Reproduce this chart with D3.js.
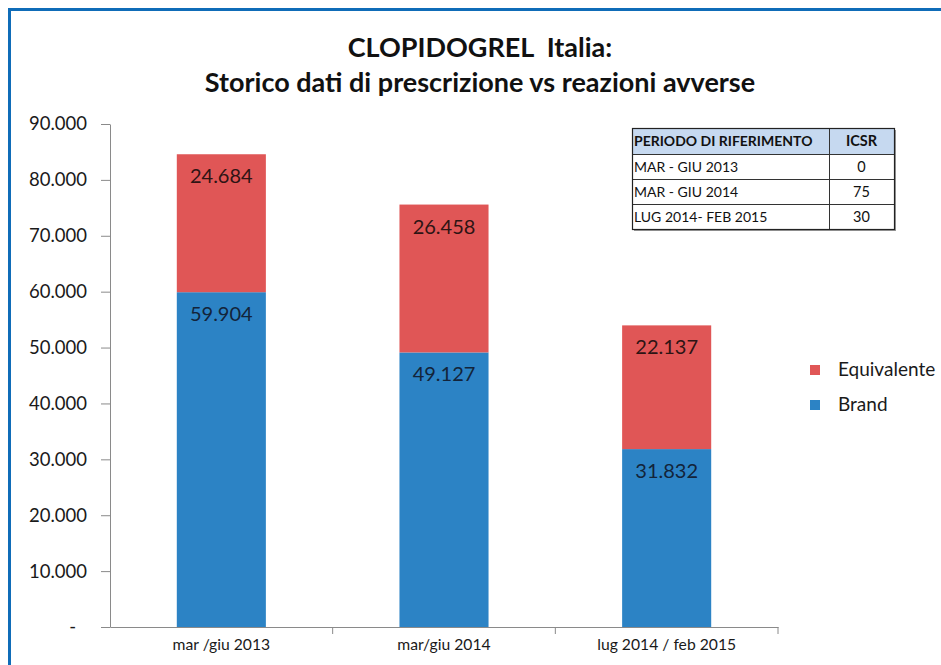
<!DOCTYPE html>
<html>
<head>
<meta charset="utf-8">
<script src="https://cdn.jsdelivr.net/npm/d3@7"></script>
<style>
  body { margin: 0; background: #fff; }
  svg { display: block; font-family: Lato, "Open Sans", sans-serif; }
</style>
</head>
<body>
<svg id="chart" width="941" height="665"></svg>
<script>
// data
const categories = ["mar /giu 2013", "mar/giu 2014", "lug 2014 / feb 2015"];
const brand = [59904, 49127, 31832];
const equivalente = [24684, 26458, 22137];
const yTicks = [0, 10000, 20000, 30000, 40000, 50000, 60000, 70000, 80000, 90000];
const tableHeader = ["PERIODO DI RIFERIMENTO", "ICSR"];
const periodi = ["MAR - GIU 2013", "MAR - GIU 2014", "LUG 2014- FEB 2015"];
const icsr = [0, 75, 30];

const blue = "#2c83c5";
const red = "#e05656";

const it = d3.formatLocale({decimal: ",", thousands: ".", grouping: [3], currency: ["€", ""]});
const fmt = it.format(",d");

let svg = d3.select("#chart");

// blue frame
svg.append("rect")
    .attr("x", 9.5).attr("y", 9.5)
    .attr("width", 1000).attr("height", 1000)
    .attr("fill", "none")
    .attr("stroke", "#0f6cb8")
    .attr("stroke-width", 3);

// title
let title = svg.append("text")
    .attr("text-anchor", "middle")
    .style("font-weight", "bold")
    .style("font-size", "27px")
    .style("white-space", "pre")
    .attr("fill", "#111");
title.append("tspan").attr("x", 480).attr("y", 57).text("CLOPIDOGREL  Italia:");
title.append("tspan").attr("x", 480).attr("y", 92).text("Storico dati di prescrizione vs reazioni avverse");

let x = d3.scaleBand()
    .domain(categories)
    .range([110, 778])
    .paddingInner(0.6)
    .paddingOuter(0.3);

let y = d3.scaleLinear()
    .domain([0, 90000])
    .range([627, 124]);

let stacked = categories.map((c, i) => ({cat: c, brand: brand[i], eq: equivalente[i]}));

// bars
let g = svg.append("g");
g.selectAll("rect.brand")
    .data(stacked).enter().append("rect")
    .attr("class", "brand")
    .attr("x", d => x(d.cat))
    .attr("width", x.bandwidth())
    .attr("y", d => y(d.brand))
    .attr("height", d => y(0) - y(d.brand))
    .attr("fill", blue);
g.selectAll("rect.eq")
    .data(stacked).enter().append("rect")
    .attr("class", "eq")
    .attr("x", d => x(d.cat))
    .attr("width", x.bandwidth())
    .attr("y", d => y(d.brand + d.eq))
    .attr("height", d => y(d.brand) - y(d.brand + d.eq))
    .attr("fill", red);

// value labels, inside end
g.selectAll("text.lb")
    .data(stacked).enter().append("text")
    .attr("x", d => x(d.cat) + x.bandwidth() / 2)
    .attr("y", d => y(d.brand) + 29)
    .attr("text-anchor", "middle")
    .style("font-size", "20px")
    .attr("fill", "#13243a")
    .text(d => fmt(d.brand));
g.selectAll("text.le")
    .data(stacked).enter().append("text")
    .attr("x", d => x(d.cat) + x.bandwidth() / 2)
    .attr("y", d => y(d.brand + d.eq) + 29)
    .attr("text-anchor", "middle")
    .style("font-size", "20px")
    .attr("fill", "#2e1414")
    .text(d => fmt(d.eq));

// y axis
let yAxis = svg.append("g")
    .attr("transform", "translate(110,0)")
    .call(d3.axisLeft(y)
        .tickValues(yTicks)
        .tickSize(9)
        .tickSizeOuter(0)
        .tickPadding(14)
        .tickFormat(d => d === 0 ? "-" : fmt(d)));
yAxis.selectAll("text").style("font-size", "18.5px").attr("fill", "#1a1a1a").style("font-family", "Lato, sans-serif");
yAxis.selectAll(".tick text").filter(d => d === 0).attr("dx", -11);
yAxis.selectAll("line, path").attr("stroke", "#8a8a8a");

// x axis
let xAxis = svg.append("g")
    .attr("transform", "translate(0,627)")
    .call(d3.axisBottom(x).tickSize(0).tickPadding(12).tickSizeOuter(0));
xAxis.selectAll("text").style("font-size", "15.7px").attr("fill", "#1a1a1a").style("font-family", "Lato, sans-serif");
xAxis.select(".domain").attr("stroke", "#8a8a8a");
// category boundary ticks
let step = x.step();
xAxis.selectAll("line.sep")
    .data(categories).enter().append("line")
    .attr("x1", d => x(d) + x.bandwidth() + step * x.paddingInner() / 2)
    .attr("x2", d => x(d) + x.bandwidth() + step * x.paddingInner() / 2)
    .attr("y1", 0).attr("y2", 7)
    .attr("stroke", "#8a8a8a");

// legend
let legend = svg.append("g").attr("transform", "translate(810,365)");
let legItems = [{name: "Equivalente", color: red}, {name: "Brand", color: blue}];
legItems.forEach((d, i) => {
    legend.append("rect")
        .attr("x", 0).attr("y", i * 35)
        .attr("width", 10).attr("height", 10)
        .attr("fill", d.color);
    legend.append("text")
        .attr("x", 28).attr("y", i * 35 + 11)
        .style("font-size", "19px")
        .attr("fill", "#1a1a1a")
        .text(d.name);
});

// ICSR table
let tx = 632, ty = 128, colW = [197, 65], rowH = [26, 25, 25, 25];
let table = svg.append("g");
table.append("rect")
    .attr("x", tx + 2).attr("y", ty + 2)
    .attr("width", colW[0] + colW[1]).attr("height", d3.sum(rowH))
    .attr("fill", "#9a9a9a");
table.append("rect")
    .attr("x", tx).attr("y", ty)
    .attr("width", colW[0] + colW[1]).attr("height", d3.sum(rowH))
    .attr("fill", "#fff");
table.append("rect")
    .attr("x", tx).attr("y", ty)
    .attr("width", colW[0] + colW[1]).attr("height", rowH[0])
    .attr("fill", "#c6d9f0");
let rows = [tableHeader].concat(periodi.map((p, i) => [p, String(icsr[i])]));
let yy = ty;
rows.forEach((r, i) => {
    let h = rowH[i];
    table.append("text")
        .attr("x", tx + 2).attr("y", yy + h / 2 + 5)
        .style("font-size", "14px")
        .style("font-weight", i === 0 ? "bold" : "normal")
        .attr("fill", "#111")
        .text(r[0]);
    table.append("text")
        .attr("x", tx + colW[0] + colW[1] / 2).attr("y", yy + h / 2 + 5)
        .attr("text-anchor", "middle")
        .style("font-size", "14.5px")
        .style("font-weight", i === 0 ? "bold" : "normal")
        .attr("fill", "#111")
        .text(r[1]);
    if (i > 0) {
        table.append("line")
            .attr("x1", tx).attr("x2", tx + colW[0] + colW[1])
            .attr("y1", yy + 0.5).attr("y2", yy + 0.5)
            .attr("stroke", "#333").attr("stroke-width", 1);
    }
    yy += h;
});
table.append("line")
    .attr("x1", tx + colW[0] + 0.5).attr("x2", tx + colW[0] + 0.5)
    .attr("y1", ty).attr("y2", ty + d3.sum(rowH))
    .attr("stroke", "#333");
table.append("rect")
    .attr("x", tx + 0.5).attr("y", ty + 0.5)
    .attr("width", colW[0] + colW[1]).attr("height", d3.sum(rowH))
    .attr("fill", "none")
    .attr("stroke", "#222").attr("stroke-width", 1.2);
</script>
</body>
</html>
